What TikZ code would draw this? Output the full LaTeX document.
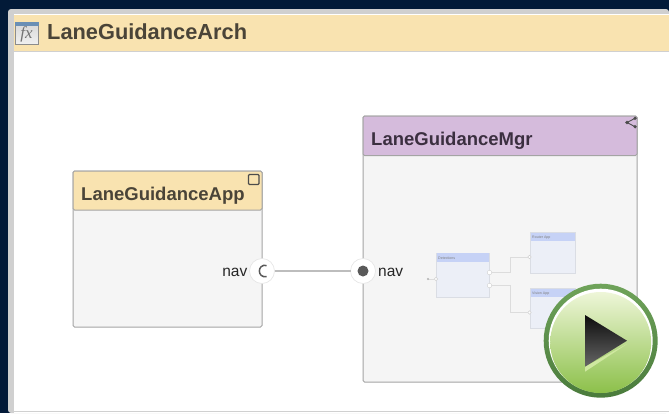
\documentclass[tikz,border=0pt]{standalone}
\usepackage{fontspec}
\setmainfont{Liberation Sans}
\newfontfamily\fxfont{Liberation Serif}
\definecolor{navy}{HTML}{021A38}
\definecolor{framegray}{HTML}{D0D0D0}
\definecolor{beige}{HTML}{F9E3B0}
\definecolor{purp}{HTML}{D5BBDC}
\definecolor{edgegray}{HTML}{A4A4A4}
\definecolor{linkgray}{HTML}{BDBDBD}
\definecolor{panel}{HTML}{F5F5F5}
\definecolor{titletxt}{HTML}{4A4438}
\definecolor{mgrtxt}{HTML}{3B2F40}
\definecolor{minifill}{HTML}{ECEFF7}
\definecolor{miniedge}{HTML}{DADDE4}
\definecolor{minihead}{HTML}{C6D2F6}
\definecolor{miniline}{HTML}{DCDCDC}
\definecolor{iconstrip}{HTML}{6A8FB5}
\definecolor{ringtop}{HTML}{6FA35A}
\definecolor{ringbot}{HTML}{4A7B3C}
\definecolor{btop}{HTML}{EEF6D8}
\definecolor{bmid}{HTML}{AFD955}
\definecolor{bbot}{HTML}{8CC04A}
\definecolor{hilite}{HTML}{CFE8A0}
\tikzset{
 x=1pt,y=-1pt,
 compbody/.style={draw=edgegray,line width=1pt,fill=panel,rounded corners=1.5pt,minimum width=#1,inner sep=0pt,outer sep=0pt},
 comphead/.style={draw=edgegray,line width=1pt,rounded corners=1.5pt,inner sep=0pt,outer sep=0pt},
 bigtext/.style={font=\bfseries\fontsize{18.5}{20}\selectfont,inner sep=0pt,anchor=base west},
 portdisc/.style={circle,fill=white,draw=black!10,line width=.6pt,minimum size=25pt,inner sep=0pt,outer sep=0pt},
 portlabel/.style={font=\fontsize{15.5}{17}\selectfont,text=black!85,inner sep=0pt,anchor=base west},
 minibody/.style={draw=miniedge,line width=.8pt,fill=minifill,inner sep=0pt,outer sep=0pt},
 minititle/.style={fill=minihead,inner sep=0pt,outer sep=0pt},
 minitext/.style={font=\fontsize{3.6}{4}\selectfont,text=black!50,inner sep=0pt,anchor=base west},
 miniport/.style={circle,draw=black!18,fill=white,line width=.4pt,minimum size=3.5pt,inner sep=0pt,outer sep=0pt},
 minilink/.style={draw=miniline,line width=.8pt},
}
\begin{document}
\begin{tikzpicture}
\useasboundingbox (0,0) rectangle (669,413);
\fill[navy] (0,0) rectangle (669,413);
% window
\fill[framegray,rounded corners=3pt] (8,9) -- (669,9) -- (669,413) -- (8,413) -- cycle;
\fill[white] (14,14) rectangle (669,413);
\fill[beige] (14,14.5) rectangle (669,51);
\draw[framegray,line width=.8pt] (14,51.5) -- (669,51.5);
\draw[framegray,line width=1pt] (14,411.5) -- (669,411.5);
% fx icon
\shade[top color=black!16,bottom color=black!6,draw=black!45,line width=.8pt] (15,22) rectangle (38.5,44);
\fill[iconstrip] (15,22) rectangle (38.5,25.5);
\node[font=\fxfont\itshape\fontsize{17}{17}\selectfont,text=black!55,inner sep=0pt] (fxlabel) at (26.5,34.5) {fx};
\node[bigtext,text=titletxt,font=\bfseries\fontsize{21.8}{24}\selectfont] (title) at (47,39) {LaneGuidanceArch};
% App component
\node[compbody=189pt,minimum height=156pt] (app) at (167.5,249) {};
\draw[comphead,fill=beige] (73,171) rectangle (262,210);
\node[bigtext,text=titletxt] (apptitle) at (81,200) {LaneGuidanceApp};
\draw[black!70,line width=1.2pt,rounded corners=1pt] (248.5,174.5) rectangle (259,184.5);
% Mgr component
\node[compbody=274pt,minimum height=266pt] (mgr) at (500,249) {};
\draw[comphead,fill=purp] (363,116) rectangle (637,155.5);
\node[bigtext,text=mgrtxt] (mgrtitle) at (371,145) {LaneGuidanceMgr};
\draw[black!70,line width=.9pt] (635,118.3) -- (627,122.5) -- (635,126.7);
\fill[black!70] (635,118.3) circle (1.8) (627,122.5) circle (1.8) (635,126.7) circle (1.8);
% ports and connector
\node[portdisc] (pa) at (262,271) {};
\node[portdisc] (pm) at (363,271) {};
\draw[linkgray,line width=1.5pt] (pa) -- (pm);
\draw[black!65,line width=1.5pt] (266.5,265.5) .. controls (257,263.5) and (257,278.5) .. (266.5,276.5);
\fill[black!65] (pm) circle (5.5);
\node[portlabel,anchor=base east] (nava) at (247.5,276) {nav};
\node[portlabel] (navm) at (378,276) {nav};
% thumbnail
\node[minibody,minimum width=53pt,minimum height=44pt] (det) at (462.5,275) {};
\node[minititle,minimum width=52pt,minimum height=8.5pt] (dethead) at (462.5,257.5) {};
\node[minitext] (dettxt) at (438,259) {Detections};
\node[minibody,minimum width=45pt,minimum height=41pt] (rou) at (552.5,253) {};
\node[minititle,minimum width=44pt,minimum height=8pt] (rouhead) at (552.5,237) {};
\node[minitext] (routxt) at (532,238.5) {Router App};
\node[minibody,minimum width=45pt,minimum height=40pt] (vis) at (552.5,308) {};
\node[minititle,minimum width=44pt,minimum height=8pt] (vishead) at (552.5,292.5) {};
\node[minitext] (vistxt) at (532,294) {Vision App};
\coordinate (stub) at (428,279);
\coordinate (bend1) at (510.5,265);
\coordinate (bend2) at (510.5,300);
\node[miniport] (detin) at (436,279) {};
\node[miniport,minimum size=4.5pt] (detout1) at (489.5,272.5) {};
\node[miniport,minimum size=4.5pt] (detout2) at (489.5,285.5) {};
\node[miniport] (rouin) at (529.5,257) {};
\node[miniport] (visin) at (529.5,312.5) {};
\draw[minilink] (stub) -- (detin);
\fill[black!30] (stub) circle (1.2);
\draw[minilink] (detout1) -| (bend1) |- (rouin);
\draw[minilink] (detout2) -| (bend2) |- (visin);
% play button
\shade[top color=ringtop,bottom color=ringbot] (600.7,340.7) circle (57);
\fill[white] (600.7,340.7) circle (52);
\shade[top color=btop,middle color=bmid,bottom color=bbot] (600.7,342.5) circle (50.5);
\fill[hilite] (585,366.7) -- (627,344) -- (585,371.7) -- cycle;
\shade[top color=black!95,bottom color=black!60] (585,315) -- (627,340.7) -- (585,366.7) -- cycle;
\end{tikzpicture}
\end{document}
